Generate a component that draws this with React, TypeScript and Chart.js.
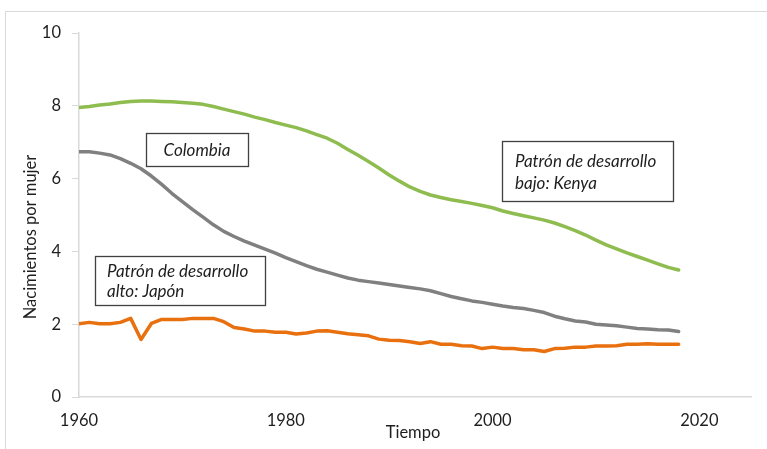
import React, { useEffect, useRef } from 'react';
import { Chart, registerables } from 'chart.js';

Chart.register(...registerables);

const years = [
  1960, 1961, 1962, 1963, 1964, 1965, 1966, 1967, 1968, 1969,
  1970, 1971, 1972, 1973, 1974, 1975, 1976, 1977, 1978, 1979,
  1980, 1981, 1982, 1983, 1984, 1985, 1986, 1987, 1988, 1989,
  1990, 1991, 1992, 1993, 1994, 1995, 1996, 1997, 1998, 1999,
  2000, 2001, 2002, 2003, 2004, 2005, 2006, 2007, 2008, 2009,
  2010, 2011, 2012, 2013, 2014, 2015, 2016, 2017, 2018,
];

const kenya = [
  7.95, 7.98, 8.02, 8.05, 8.09, 8.12, 8.13, 8.13, 8.12, 8.11,
  8.09, 8.07, 8.04, 7.98, 7.91, 7.84, 7.77, 7.69, 7.62, 7.54,
  7.47, 7.40, 7.31, 7.21, 7.11, 6.97, 6.80, 6.64, 6.47, 6.29,
  6.10, 5.93, 5.77, 5.65, 5.55, 5.48, 5.42, 5.37, 5.32, 5.26,
  5.20, 5.11, 5.04, 4.98, 4.92, 4.86, 4.78, 4.68, 4.57, 4.45,
  4.31, 4.18, 4.07, 3.96, 3.86, 3.76, 3.66, 3.56, 3.49,
];

const colombia = [
  6.74, 6.74, 6.70, 6.65, 6.55, 6.42, 6.27, 6.07, 5.84, 5.59,
  5.37, 5.15, 4.94, 4.73, 4.55, 4.41, 4.28, 4.17, 4.06, 3.95,
  3.83, 3.72, 3.61, 3.51, 3.43, 3.35, 3.27, 3.21, 3.17, 3.13,
  3.09, 3.05, 3.01, 2.97, 2.92, 2.84, 2.76, 2.70, 2.64, 2.60,
  2.55, 2.50, 2.46, 2.43, 2.38, 2.32, 2.22, 2.15, 2.09, 2.06,
  2.00, 1.98, 1.96, 1.92, 1.88, 1.87, 1.85, 1.84, 1.80,
];

const japan = [
  2.01, 2.05, 2.01, 2.01, 2.05, 2.16, 1.58, 2.02, 2.13, 2.13,
  2.13, 2.16, 2.16, 2.16, 2.07, 1.91, 1.87, 1.81, 1.81, 1.78,
  1.78, 1.73, 1.76, 1.81, 1.82, 1.78, 1.74, 1.71, 1.68, 1.59,
  1.56, 1.55, 1.52, 1.47, 1.52, 1.45, 1.45, 1.41, 1.40, 1.33,
  1.37, 1.33, 1.33, 1.30, 1.30, 1.25, 1.33, 1.34, 1.37, 1.37,
  1.40, 1.40, 1.41, 1.45, 1.45, 1.46, 1.45, 1.45, 1.45,
];

const xTicks = [1960, 1980, 2000, 2020];
const yTicks = [0, 2, 4, 6, 8, 10];
const xTitle = 'Tiempo';
const yTitle = 'Nacimientos por mujer';

const noteColombia = ['Colombia'];
const noteJapan = ['Patrón de desarrollo', 'alto: Japón'];
const noteKenya = ['Patrón de desarrollo', 'bajo: Kenya'];

const FONT = 'Lato, "Open Sans", sans-serif';
const TEXT = '#1e1e1e';
const AXIS = '#D9D9D9';

const boxes = [
  { lines: noteColombia, x: 146, y: 133, w: 102, h: 33, tx: 197, ty: [151], align: 'center' },
  { lines: noteJapan, x: 95, y: 256, w: 170, h: 49, tx: 107, ty: [272, 292], align: 'left' },
  { lines: noteKenya, x: 502, y: 141, w: 171, h: 60, tx: 515, ty: [162, 184], align: 'left' },
];

const decor = {
  id: 'decor',
  beforeDraw(chart: any) {
    const ctx = chart.ctx;
    ctx.save();
    ctx.fillStyle = '#ffffff';
    ctx.fillRect(0, 0, chart.width, chart.height);
    ctx.strokeStyle = AXIS;
    ctx.lineWidth = 1;
    ctx.strokeRect(5.5, 11.5, chart.width + 20, chart.height + 20);
    ctx.restore();
  },
  afterDraw(chart: any) {
    const ctx = chart.ctx;
    ctx.save();
    ctx.fillStyle = TEXT;
    ctx.font = `16.5px ${FONT}`;
    ctx.textAlign = 'center';
    ctx.textBaseline = 'middle';
    ctx.fillText(xTitle, 413, 433);
    ctx.translate(31, 237);
    ctx.rotate(-Math.PI / 2);
    ctx.fillText(yTitle, 0, 0);
    ctx.restore();

    for (const b of boxes) {
      ctx.save();
      ctx.fillStyle = '#ffffff';
      ctx.fillRect(b.x, b.y, b.w, b.h);
      ctx.strokeStyle = '#404040';
      ctx.lineWidth = 1.3;
      ctx.strokeRect(b.x + 0.5, b.y + 0.5, b.w, b.h);
      ctx.fillStyle = TEXT;
      ctx.font = `italic 17px ${FONT}`;
      ctx.textAlign = b.align as CanvasTextAlign;
      ctx.textBaseline = 'middle';
      b.lines.forEach((t, i) => ctx.fillText(t, b.tx, b.ty[i]));
      ctx.restore();
    }
  },
};

const series = [
  { label: 'Kenya', data: kenya, color: '#8FBC4F' },
  { label: 'Colombia', data: colombia, color: '#808080' },
  { label: 'Japón', data: japan, color: '#E8700E' },
];

export default function App() {
  const ref = useRef<HTMLCanvasElement | null>(null);
  useEffect(() => {
    if (!ref.current) return;
    const chart = new Chart(ref.current, {
      type: 'line',
      data: {
        datasets: series.map((s) => ({
          label: s.label,
          data: years.map((y, i) => ({ x: y, y: s.data[i] })),
          borderColor: s.color,
          backgroundColor: s.color,
          borderWidth: 3.5,
          pointRadius: 0,
          tension: 0,
          borderJoinStyle: 'round' as const,
          borderCapStyle: 'round' as const,
          fill: false,
        })),
      },
      options: {
        animation: false,
        responsive: false,
        devicePixelRatio: 1,
        layout: { padding: { left: 0, right: 16, top: 33, bottom: 0 } },
        plugins: { legend: { display: false }, tooltip: { enabled: false } },
        scales: {
          x: {
            type: 'linear',
            min: 1960,
            max: 2025,
            afterBuildTicks: (s: any) => {
              s.ticks = xTicks.map((v) => ({ value: v }));
            },
            afterFit: (s: any) => {
              s.height = 52;
            },
            grid: { display: false, drawTicks: false },
            border: { display: true, color: AXIS, width: 1.5 },
            ticks: {
              padding: 14,
              color: TEXT,
              font: { family: FONT, size: 16.5 },
              maxRotation: 0,
              autoSkip: false,
              callback: (v: any) => String(v),
            },
          },
          y: {
            min: 0,
            max: 10,
            afterBuildTicks: (s: any) => {
              s.ticks = yTicks.map((v) => ({ value: v }));
            },
            afterFit: (s: any) => {
              s.width = 79;
            },
            grid: { drawOnChartArea: false, drawTicks: true, tickLength: 7, color: AXIS },
            border: { display: true, color: AXIS, width: 1.5 },
            ticks: {
              padding: 11,
              color: TEXT,
              font: { family: FONT, size: 16.5 },
              callback: (v: any) => String(v),
            },
          },
        },
      },
      plugins: [decor],
    });
    return () => chart.destroy();
  }, []);
  return (
    <canvas
      ref={ref}
      width={767}
      height={449}
      style={{ position: 'absolute', left: 0, top: 0, display: 'block' }}
    />
  );
}
